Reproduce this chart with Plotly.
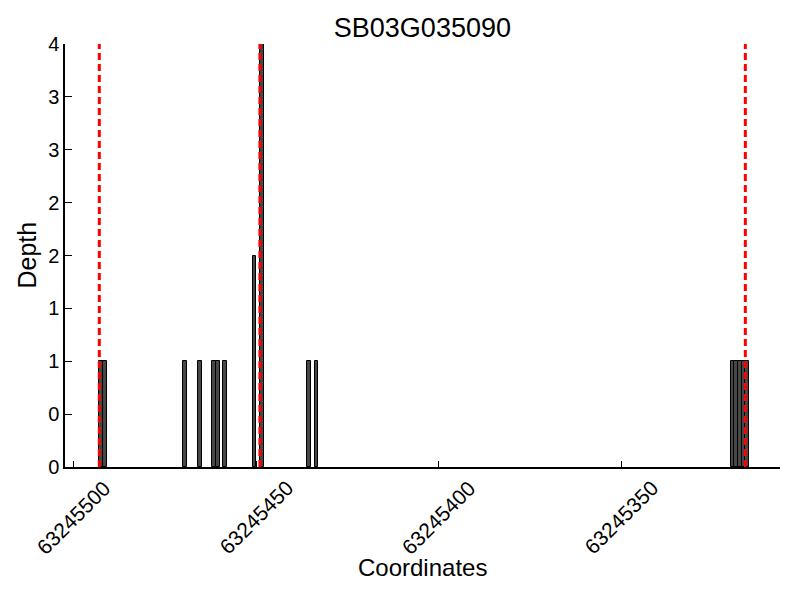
import plotly.graph_objects as go

title_text = "SB03G035090"
coords = [63245493, 63245492, 63245470, 63245466, 63245462, 63245461, 63245459,
          63245451, 63245449, 63245436, 63245434,
          63245320, 63245319, 63245318, 63245317, 63245316]
depths = [1, 1, 1, 1, 1, 1, 1, 2, 4, 1, 1, 1, 1, 1, 1, 1]
marker_lines = [63245493, 63245449, 63245316]
x_tickvals = [63245500, 63245450, 63245400, 63245350]
y_tickvals = [0, 0.5, 1, 1.5, 2, 2.5, 3, 3.5, 4]
y_ticktext = ["0", "0", "1", "1", "2", "2", "3", "3", "4"]
x_title = "Coordinates"
y_title = "Depth"

FONT = "Liberation Sans, Arial, sans-serif"

fig = go.Figure()
fig.add_trace(go.Bar(
    x=coords, y=depths, width=1, offset=-1,
    marker=dict(color="#474747", line=dict(color="black", width=1)),
    showlegend=False,
))

for xv in marker_lines:
    fig.add_shape(type="line", xref="x", yref="paper", x0=xv, x1=xv, y0=0, y1=1,
                  line=dict(color="#ff0000", width=3, dash="7px,4px"), layer="above")

# rotated tick labels centred on their ticks
for tv in x_tickvals:
    fig.add_annotation(x=tv, xref="x", y=0, yref="paper", yshift=-7,
                       text=str(tv), textangle=-45, showarrow=False,
                       xanchor="center", yanchor="top",
                       font=dict(size=21, family=FONT, color="black"))

fig.add_annotation(x=0.5, xref="paper", y=0, yref="paper", yshift=-100,
                   text=x_title, showarrow=False, xanchor="center", yanchor="middle",
                   font=dict(size=24, family=FONT, color="black"))
fig.add_annotation(x=0, xref="paper", y=0.5, yref="paper", xshift=-39,
                   text=y_title, textangle=-90, showarrow=False,
                   xanchor="center", yanchor="middle",
                   font=dict(size=25, family=FONT, color="black"))

fig.update_layout(
    width=800, height=600,
    margin=dict(l=65, r=20, t=44, b=133, autoexpand=False),
    paper_bgcolor="white", plot_bgcolor="white",
    font=dict(family=FONT, color="black"),
    title=dict(text=title_text, x=0.528, xanchor="center", y=1 - 28 / 600, yanchor="middle",
               font=dict(size=27, family=FONT, color="black")),
    bargap=0,
)
fig.update_xaxes(
    range=[63245502.4, 63245306.5],
    tickvals=x_tickvals, showticklabels=False,
    ticks="inside", ticklen=6, tickcolor="black",
    showline=True, linecolor="black", linewidth=1.5, mirror=False,
    showgrid=False, zeroline=False,
    automargin=False,
)
fig.update_yaxes(
    range=[0, 4],
    tickvals=y_tickvals, ticktext=y_ticktext,
    ticks="inside", ticklen=7, tickcolor="black",
    showline=True, linecolor="black", linewidth=1.5, mirror=False,
    showgrid=False, zeroline=False,
    tickfont=dict(size=20, family=FONT, color="black"),
    automargin=False,
)

fig.write_html("out.html", config={"displayModeBar": False},
               post_script="document.body.style.margin='0';")
